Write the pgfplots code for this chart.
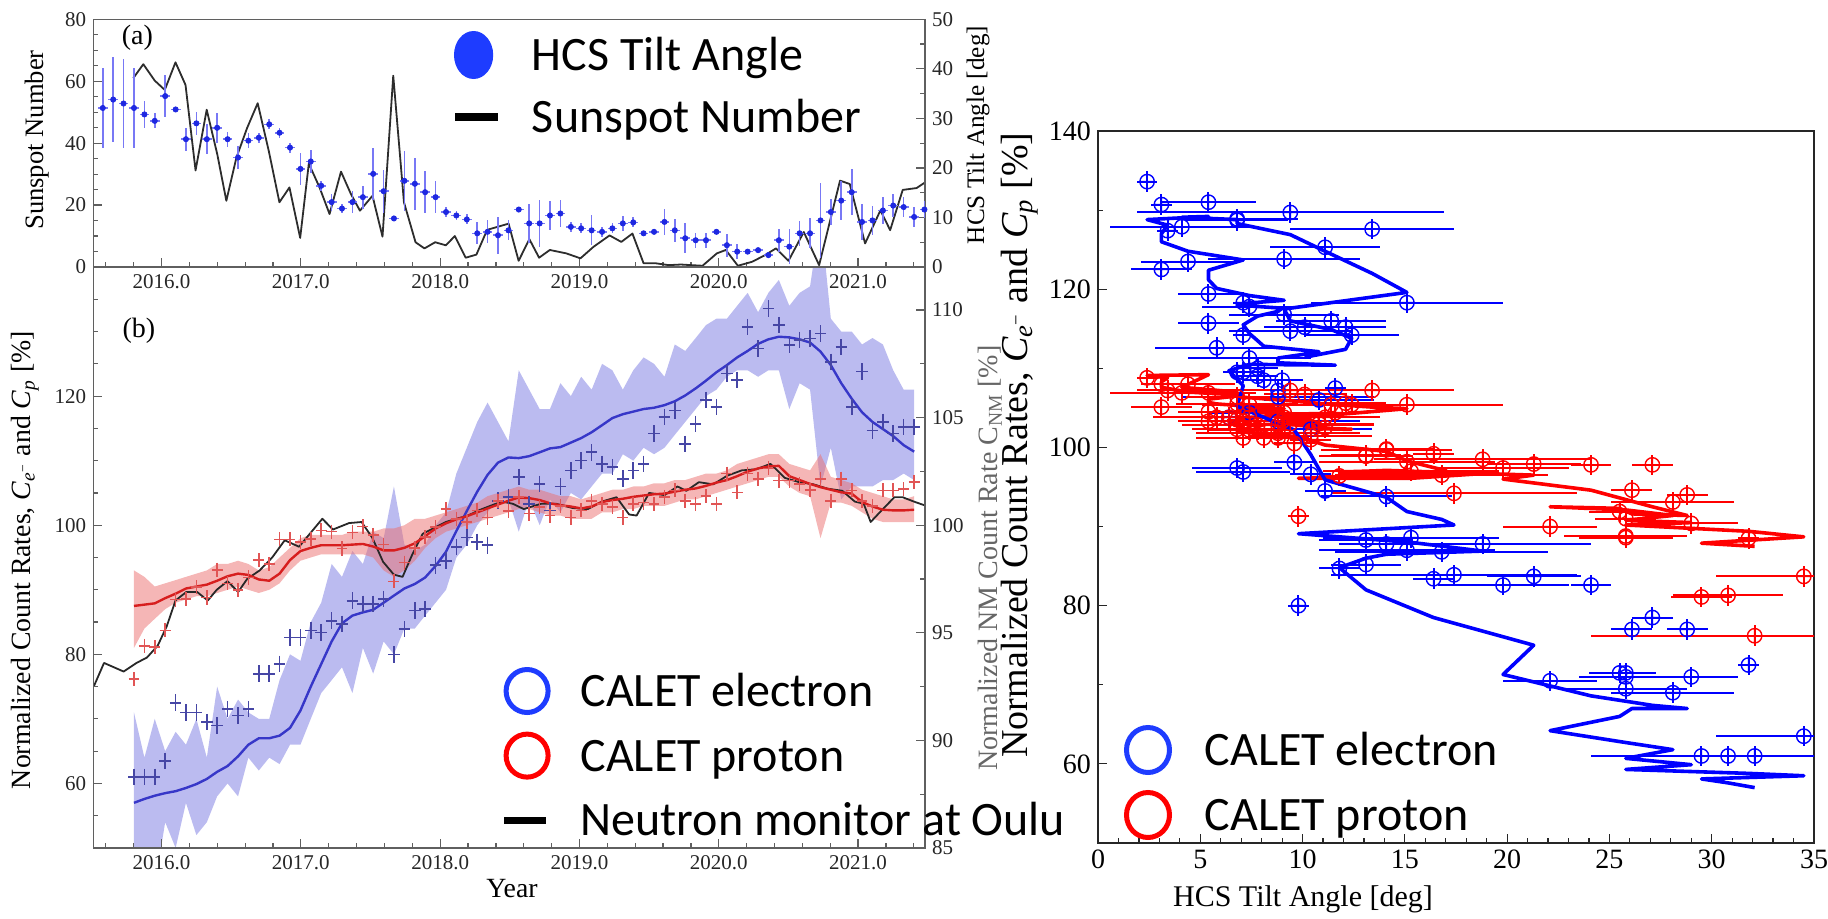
\documentclass[border=0pt]{standalone}
\usepackage{fontspec}
\setmainfont{Liberation Serif}
\newfontfamily\calibri{Carlito}
\usepackage{pgfplots}
\pgfplotsset{compat=1.18}
\usepackage{pgfplotstable}

\definecolor{frameg}{RGB}{95,95,95}
\definecolor{tiltdot}{RGB}{30,40,225}
\definecolor{tiltbar}{RGB}{120,120,245}
\definecolor{ssn}{RGB}{45,45,45}
\definecolor{eband}{RGB}{120,120,225}
\definecolor{eline}{RGB}{55,55,200}
\definecolor{ecross}{RGB}{70,70,165}
\definecolor{pband}{RGB}{235,110,110}
\definecolor{pline}{RGB}{215,30,30}
\definecolor{pcross}{RGB}{225,85,85}
\definecolor{nmline}{RGB}{40,40,40}
\definecolor{legblue}{RGB}{30,60,255}
\definecolor{legred}{RGB}{255,0,0}

% HCS tilt angle per Carrington rotation: epoch [yr], tilt and error [deg]
\pgfplotstableread{
t        tilt  dtilt
2015.578 32.1  8.0
2015.653 33.8  8.5
2015.727 33.0  9.0
2015.802 32.1  8.0
2015.877 30.8  2.7
2015.951 29.5  1.5
2016.026 34.5  4.3
2016.101 31.8  0.5
2016.175 25.8  2.3
2016.250 29.0  2.3
2016.325 25.8  3.0
2016.399 28.1  3.0
2016.474 25.8  1.5
2016.549 22.1  2.3
2016.623 25.5  1.5
2016.698 26.1  1.0
2016.773 28.8  1.0
2016.847 27.1  1.0
2016.922 24.1  1.0
2016.997 19.8  3.2
2017.071 21.3  2.3
2017.146 16.4  1.0
2017.221 13.1  1.7
2017.295 11.8  1.0
2017.370 13.1  2.3
2017.445 14.1  2.3
2017.519 18.8  5.3
2017.594 15.3  4.3
2017.668 9.8   0.5
2017.743 17.4  6.0
2017.818 16.8  5.2
2017.892 15.1  4.3
2017.967 14.1  3.2
2018.042 11.1  1.0
2018.116 10.4  1.0
2018.191 9.6   1.0
2018.266 6.8   2.2
2018.340 7.1   2.3
2018.415 6.4   3.7
2018.490 7.4   2.0
2018.564 11.6  0.5
2018.639 8.8   4.0
2018.714 8.8   4.7
2018.788 10.4  3.0
2018.863 10.8  2.7
2018.938 8.1   1.0
2019.012 7.8   1.0
2019.087 7.4   3.0
2019.162 7.1   1.0
2019.236 7.8   1.0
2019.311 8.8   1.5
2019.386 9.0   1.0
2019.460 6.8   0.5
2019.535 7.1   0.5
2019.610 9.1   2.7
2019.684 7.4   2.3
2019.759 5.8   3.0
2019.834 5.4   1.5
2019.908 5.4   1.5
2019.983 7.1   0.5
2020.058 4.4   2.3
2020.132 3.1   1.5
2020.207 3.1   0.5
2020.282 3.4   0.5
2020.356 2.4   0.5
2020.431 5.4   2.3
2020.506 4.1   3.5
2020.580 6.8   2.5
2020.655 6.8   3.0
2020.730 9.4   7.5
2020.804 11.1  2.7
2020.879 13.4  4.0
2020.954 15.1  4.7
2021.028 9.1   3.7
2021.103 9.4   3.0
2021.178 11.4  2.7
2021.252 12.4  2.3
2021.327 12.1  2.0
2021.402 10.1  2.0
2021.476 11.6  1.7
}\tilttab

% CALET rates per Carrington rotation, with the tilt of the same rotation:
% e, p = electron / proton count rates [%], eS, pS = smoothed rates,
% eLo..eHi and pLo..pHi = uncertainty bands of the smoothed rates
\pgfplotstableread{
t        tilt  dtilt e     p     eS    eLo  eHi  pS    pLo   pHi
2015.802 32.1  8.0   61.0  76.2  57.0  47   71   87.5  81    93
2015.877 30.8  2.7   61.0  81.3  57.6  50   64   87.7  84    92
2015.951 29.5  1.5   61.0  81.1  58.1  44   70   87.9  85.5  90.5
2016.026 34.5  4.3   63.5  83.7  58.5  54   65   88.7  87    91
2016.101 31.8  0.5   72.5  88.5  58.8  50   68   89.4  88    91.5
2016.175 25.8  2.3   71.0  88.6  59.3  57   66   90.2  88.5  92
2016.250 29.0  2.3   71.0  90.4  59.9  52   70   90.5  89    92.5
2016.325 25.8  3.0   69.5  88.8  60.7  54   64   90.8  89    93
2016.399 28.1  3.0   69.0  93.1  61.8  58   75   91.4  89.5  94
2016.474 25.8  1.5   71.5  91.0  62.7  60   70   92.1  90    94
2016.549 22.1  2.3   70.5  90.0  64.2  58   73   92.5  90.5  94.5
2016.623 25.5  1.5   71.5  91.9  66.0  64   71   92.3  90    94
2016.698 26.1  1.0   77.0  94.6  67.0  62   70   91.6  89.5  93
2016.773 28.8  1.0   77.0  94.0  67.0  64   70   91.4  90    93.5
2016.847 27.1  1.0   78.5  97.8  67.4  63   76   92.5  91    95
2016.922 24.1  1.0   82.6  97.8  68.6  66   80   94.6  93    96.5
2016.997 19.8  3.2   82.6  97.4  71.3  66   79   96.0  94.5  98
2017.071 21.3  2.3   83.7  97.9  75.0  70   85   96.5  95    98.5
2017.146 16.4  1.0   83.4  99.2  78.5  74   88   96.9  95.5  98.5
2017.221 13.1  1.7   85.2  99.0  82.0  76   94   96.9  95.5  98.5
2017.295 11.8  1.0   84.7  96.4  84.8  78   92   96.9  95.5  98.5
2017.370 13.1  2.3   88.3  98.9  86.0  74   96   97.0  95.5  99
2017.445 14.1  2.3   87.8  99.8  86.5  81   94   97.1  95.5  99
2017.519 18.8  5.3   87.8  98.5  86.9  77   99   96.7  95    99
2017.594 15.3  4.3   88.6  97.0  88.0  82   98   96.1  93    99.5
2017.668 9.8   0.5   80.0  91.3  89.1  80   106  96.1  92    99.5
2017.743 17.4  6.0   83.9  94.2  90.2  84   97   96.5  93    100
2017.818 16.8  5.2   86.8  96.5  90.9  84   96   97.2  94.5  101
2017.892 15.1  4.3   87.0  98.2  91.9  86   97   98.3  96.5  101
2017.967 14.1  3.2   93.8  99.7  93.7  88   100  99.5  98    101.5
2018.042 11.1  1.0   94.5  102.5 95.9  90   102  100.3 99    102
2018.116 10.4  1.0   96.6  101.0 99.1  95   108  100.9 99.5  102.5
2018.191 9.6   1.0   98.1  100.5 102.2 97   112  101.4 100   103
2018.266 6.8   2.2   97.4  102.3 105.2 100  116  102.0 100.5 103.5
2018.340 7.1   2.3   96.9  101.2 107.8 102  119  102.6 101   104.5
2018.415 6.4   3.7   103.8 103.8 109.7 104  116  103.2 101.5 105
2018.490 7.4   2.0   104.4 102.2 110.5 104  113  103.8 102   105.5
2018.564 11.6  0.5   107.5 104.4 110.4 99   124  104.3 102.5 106
2018.639 8.8   4.0   103.3 101.8 110.7 104  121  104.2 102.5 105.5
2018.714 8.8   4.7   106.4 102.8 111.3 100  118  103.9 102   105.5
2018.788 10.4  3.0   102.3 101.5 111.9 104  118  103.4 101.5 105
2018.863 10.8  2.7   106.0 103.0 112.1 102  122  103.1 101.5 104.5
2018.938 8.1   1.0   108.5 101.2 112.8 105  120  102.9 101   104.5
2019.012 7.8   1.0   110.0 102.3 113.5 104  123  102.6 101   104
2019.087 7.4   3.0   111.3 103.8 114.4 106  121  102.9 101   104.5
2019.162 7.1   1.0   109.5 103.3 115.5 108  125  103.6 102   105
2019.236 7.8   1.0   109.0 102.8 116.6 108  124  103.9 102   105.5
2019.311 8.8   1.5   107.2 101.2 117.2 111  121  104.1 102.5 105.5
2019.386 9.0   1.0   108.5 103.3 117.6 110  124  104.4 102.5 106
2019.460 6.8   0.5   109.5 103.5 118.0 112  126  104.6 103   106
2019.535 7.1   0.5   114.2 103.3 118.2 111  125  104.8 103   106.5
2019.610 9.1   2.7   116.8 104.4 118.6 112  123  104.9 103   106.5
2019.684 7.4   2.3   117.8 105.4 119.2 114  128  105.2 103.5 107
2019.759 5.8   3.0   112.6 103.8 120.1 116  127  105.5 104   107
2019.834 5.4   1.5   115.7 103.3 121.2 118  129  105.7 104   107.5
2019.908 5.4   1.5   119.4 104.5 122.4 120  131  106.1 104.5 108
2019.983 7.1   0.5   118.3 103.3 123.7 121  132  106.6 105   108
2020.058 4.4   2.3   123.5 108.0 124.8 123  132  107.0 105.5 108.5
2020.132 3.1   1.5   122.5 105.1 126.0 124  134  107.6 106   109.5
2020.207 3.1   0.5   130.7 108.0 127.0 124  136  108.3 106.5 110
2020.282 3.4   0.5   127.4 107.2 128.1 123  133  108.8 107   110.5
2020.356 2.4   0.5   133.6 108.8 128.8 124  136  109.1 107.5 111
2020.431 5.4   2.3   131.0 106.9 129.2 124  138  109.2 107.5 111
2020.506 4.1   3.5   127.9 106.9 129.1 118  134  107.6 106   109.5
2020.580 6.8   2.5   128.7 106.4 128.8 122  136  107.0 105   109
2020.655 6.8   3.0   128.9 105.5 128.3 121  137  106.4 104.5 108.5
2020.730 9.4   7.5   129.7 107.2 126.9 106  148  105.9 98    111
2020.804 11.1  2.7   125.3 103.8 124.8 112  132  105.5 103.5 107.5
2020.879 13.4  4.0   127.6 107.2 122.0 104  130  105.1 103.5 107
2020.954 15.1  4.7   118.3 105.4 119.6 106  130  104.9 103   106.5
2021.028 9.1   3.7   123.8 103.8 117.5 106  128  103.6 102   105.5
2021.103 9.4   3.0   114.7 103.0 116.0 106  129  102.9 101   105
2021.178 11.4  2.7   116.0 105.4 114.9 107  128  102.4 100.5 104.5
2021.252 12.4  2.3   114.2 105.4 113.8 107  124  102.3 100.5 104
2021.327 12.1  2.0   115.2 105.6 112.4 108  121  102.3 100.5 104
2021.402 10.1  2.0   115.2 106.7 111.4 107  121  102.4 100.5 104.5
}\calet

% monthly sunspot number
\pgfplotstableread{
t        ssn
2015.797 61.0
2015.869 65.5
2015.951 60.2
2016.023 57.2
2016.100 66.1
2016.172 58.8
2016.244 31.2
2016.324 50.8
2016.400 36.4
2016.465 21.4
2016.537 35.3
2016.614 44.9
2016.690 52.9
2016.770 37.4
2016.846 20.9
2016.918 25.7
2016.995 9.4
2017.057 33.4
2017.134 25.7
2017.206 17.1
2017.288 30.8
2017.360 23.5
2017.424 18.2
2017.514 23.0
2017.586 9.8
2017.663 61.8
2017.740 20.9
2017.823 8.0
2017.887 6.0
2017.964 8.0
2018.041 7.0
2018.105 10.0
2018.183 3.0
2018.260 4.0
2018.337 12.0
2018.414 13.0
2018.491 14.0
2018.563 2.0
2018.640 9.0
2018.710 3.0
2018.787 5.5
2018.905 4.4
2019.007 2.8
2019.100 6.5
2019.216 10.2
2019.300 8.1
2019.380 10.8
2019.460 1.2
2019.547 1.2
2019.640 0.6
2019.727 0.8
2019.804 0.6
2019.883 0.4
2019.986 4.4
2020.050 5.5
2020.137 0.4
2020.240 1.7
2020.330 3.8
2020.410 6.0
2020.500 2.0
2020.610 11.3
2020.720 0.6
2020.870 27.9
2020.940 26.8
2021.050 7.6
2021.160 18.3
2021.230 11.9
2021.320 24.9
2021.420 25.5
2021.500 27.9
}\sunspot

% Oulu neutron monitor, normalised count rate [%]
\pgfplotstableread{
t        nm
2015.513 92.5
2015.587 93.6
2015.728 93.2
2015.820 93.6
2015.895 93.85
2015.972 94.4
2016.037 95.3
2016.100 96.5
2016.178 96.9
2016.255 96.9
2016.332 96.5
2016.396 97.0
2016.473 97.4
2016.550 96.9
2016.614 97.5
2016.704 97.9
2016.794 98.5
2016.884 99.3
2016.987 99.0
2017.064 99.6
2017.154 100.3
2017.230 99.8
2017.346 100.1
2017.436 100.15
2017.514 99.4
2017.590 98.3
2017.668 97.7
2017.730 97.6
2017.797 98.6
2017.874 99.6
2017.964 99.9
2018.040 100.15
2018.118 100.3
2018.200 100.45
2018.280 100.7
2018.360 100.9
2018.440 101.1
2018.520 101.0
2018.600 100.75
2018.726 101.0
2018.830 101.0
2018.950 100.8
2019.060 100.75
2019.160 101.1
2019.266 101.3
2019.356 100.5
2019.410 100.45
2019.500 101.5
2019.610 101.4
2019.703 101.8
2019.767 101.6
2019.857 102.0
2019.960 101.9
2020.060 102.3
2020.165 102.55
2020.268 102.6
2020.370 102.85
2020.420 102.55
2020.474 102.2
2020.577 102.0
2020.680 101.9
2020.780 101.7
2020.886 101.6
2020.976 101.1
2021.040 101.0
2021.090 100.15
2021.170 100.7
2021.260 101.3
2021.320 101.3
2021.400 101.1
2021.488 100.9
}\oulu

\pgfplotsset{
  leftpanel/.style={
    scale only axis, width=415.85pt,
    xmin=2015.51, xmax=2021.48,
    axis line style={draw=frameg, line width=0.7pt},
    tick style={draw=frameg, line width=0.6pt},
    major tick length=4.5pt, minor tick length=2.5pt,
    tick label style={font=\fontsize{10.5}{12}\selectfont, text=black!85},
    /pgf/number format/assume math mode=true,
    xtick={2016,2017,...,2021},
    minor xtick={2015.6,2015.8,...,2021.41},
    xticklabel={\pgfmathprintnumber[fixed,fixed zerofill,precision=1,1000 sep={}]{\tick}},
  },
  bandaxis/.style={
    scale only axis, width=415.85pt, height=290.5pt,
    at={(46.65pt,35pt)}, anchor=south west,
    xmin=2015.51, xmax=2021.48, ymin=50, ymax=140, hide axis,
  },
  bigleg/.style={
    legend cell align=left,
    legend style={draw=none, fill=none, inner sep=0pt, outer sep=0pt,
      anchor=north west, row sep=#1,
      font=\calibri\fontsize{24}{28}\selectfont,
      nodes={inner sep=0pt, text height=17pt, text depth=1.6pt}},
  },
}

\begin{document}
\begin{tikzpicture}
\path[use as bounding box] (0,0) rectangle (914pt,459pt);

% ---------- (a) sunspot number ----------
\begin{axis}[leftpanel, at={(46.65pt,325.5pt)}, anchor=south west, height=123.85pt,
  ymin=0, ymax=80, ytick={0,20,...,80}, minor ytick={0,5,...,80},
  xtick pos=bottom, ytick pos=left]
\addplot[ssn, line width=0.9pt, line join=round] table[x=t,y=ssn]{\sunspot};
\node[font=\fontsize{14}{15}\selectfont] at (rel axis cs:0.0531,0.9245) {(a)};
\end{axis}

% ---------- (a) HCS tilt angle, right axis ----------
\begin{axis}[leftpanel, at={(46.65pt,325.5pt)}, anchor=south west, height=123.85pt,
  ymin=0, ymax=50, ytick={0,10,...,50}, minor ytick={0,5,...,50},
  axis y line*=right, axis x line=none,
  bigleg=6pt, legend style={at={(0.43369,0.9568)}}]
\addplot[forget plot, only marks, mark=*, mark size=1.3pt, tiltdot,
  error bars/.cd, y dir=both, y explicit, x dir=both, x fixed=0.035,
  error mark=none, error bar style={tiltbar, line width=0.8pt}]
  table[x=t, y=tilt, y error=dtilt]{\tilttab};
\addlegendimage{legend image code/.code={
  \path[draw=none, fill=none] (0pt,-12.5pt) rectangle (39pt,12.5pt);
  \fill[legblue, draw=none] (9.8pt,0pt) ellipse [x radius=9.8pt, y radius=12pt];}}
\addlegendentry{HCS Tilt Angle}
\addlegendimage{legend image code/.code={
  \path[draw=none, fill=none] (0pt,-12.5pt) rectangle (39pt,12.5pt);
  \fill[black, draw=none] (0.5pt,-2pt) rectangle (22pt,2pt);}}
\addlegendentry{Sunspot Number}
\end{axis}

% ---------- (b) uncertainty bands of the smoothed rates ----------
\begin{axis}[bandaxis]
\addplot[draw=none, stack plots=y, forget plot] table[x=t,y=eLo]{\calet};
\addplot[fill=eband, fill opacity=0.5, draw=none, stack plots=y, forget plot]
  table[x=t, y expr=\thisrow{eHi}-\thisrow{eLo}]{\calet} \closedcycle;
\end{axis}
\begin{axis}[bandaxis]
\addplot[draw=none, stack plots=y, forget plot] table[x=t,y=pLo]{\calet};
\addplot[fill=pband, fill opacity=0.5, draw=none, stack plots=y, forget plot]
  table[x=t, y expr=\thisrow{pHi}-\thisrow{pLo}]{\calet} \closedcycle;
\end{axis}

% ---------- (b) neutron monitor, right axis ----------
\begin{axis}[leftpanel, at={(46.65pt,35pt)}, anchor=south west, height=290.5pt,
  ymin=85, ymax=112, ytick={85,90,...,110}, minor ytick={85,87.5,...,110},
  axis y line*=right, axis x line=none]
\addplot[nmline, line width=0.9pt, line join=round] table[x=t,y=nm]{\oulu};
\end{axis}

% ---------- (b) CALET count rates ----------
\begin{axis}[leftpanel, at={(46.65pt,35pt)}, anchor=south west, height=290.5pt,
  ymin=50, ymax=140, ytick={60,80,...,120}, minor ytick={50,55,...,140},
  xtick pos=bottom, ytick pos=left,
  bigleg=7.3pt, legend style={at={(0.49333,0.31325)}}]
\addplot[forget plot, eline, line width=1.2pt, line join=round] table[x=t,y=eS]{\calet};
\addplot[forget plot, pline, line width=1.2pt, line join=round] table[x=t,y=pS]{\calet};
\addplot[forget plot, only marks, mark=+, mark size=3.6pt, ecross,
  mark options={line width=0.8pt, xscale=0.8, yscale=1.15}]
  table[x=t,y=e]{\calet};
\addplot[forget plot, only marks, mark=+, mark size=3.2pt, pcross,
  mark options={line width=0.8pt, xscale=0.85, yscale=1.1}]
  table[x=t,y=p]{\calet};
\node[font=\fontsize{14}{15}\selectfont] at (rel axis cs:0.0549,0.8898) {(b)};
\addlegendimage{legend image code/.code={
  \path[draw=none, fill=none] (0pt,-12.5pt) rectangle (38.5pt,12.5pt);
  \draw[legblue, fill=none, line width=2.5pt] (11.75pt,0pt) ellipse [x radius=10.5pt, y radius=10.75pt];}}
\addlegendentry{CALET electron}
\addlegendimage{legend image code/.code={
  \path[draw=none, fill=none] (0pt,-12.5pt) rectangle (38.5pt,12.5pt);
  \draw[legred, fill=none, line width=2.5pt] (11.75pt,0pt) ellipse [x radius=10.5pt, y radius=10.75pt];}}
\addlegendentry{CALET proton}
\addlegendimage{legend image code/.code={
  \path[draw=none, fill=none] (0pt,-12.5pt) rectangle (38.5pt,12.5pt);
  \fill[black, draw=none] (0pt,-1.8pt) rectangle (21pt,1.8pt);}}
\addlegendentry{Neutron monitor at Oulu}
\end{axis}

% ---------- count rates versus tilt angle ----------
\begin{axis}[scale only axis, at={(549pt,37.5pt)}, anchor=south west,
  width=358pt, height=356pt,
  xmin=0, xmax=35, ymin=50, ymax=140,
  xtick={0,5,...,35}, minor x tick num=4,
  ytick={60,80,...,140}, minor ytick={70,90,110,130},
  xtick pos=bottom, ytick pos=left,
  axis line style={draw=black!85, line width=0.8pt},
  tick style={draw=black!85, line width=0.6pt},
  major tick length=4.5pt, minor tick length=2.5pt,
  tick label style={font=\fontsize{14}{15}\selectfont},
  /pgf/number format/assume math mode=true,
  bigleg=7.5pt, legend style={at={(0.03631,0.16573)}}]
\addplot[forget plot, only marks, mark=oplus, mark size=3.6pt, blue,
  mark options={line width=0.7pt},
  error bars/.cd, x dir=both, x explicit, y dir=both, y fixed=1.3, error mark=none,
  error bar style={blue, line width=1pt}]
  table[x=tilt, y=e, x error=dtilt]{\calet};
\addplot[forget plot, only marks, mark=oplus, mark size=3.6pt, red,
  mark options={line width=0.7pt},
  error bars/.cd, x dir=both, x explicit, y dir=both, y fixed=1.3, error mark=none,
  error bar style={red, line width=1pt}]
  table[x=tilt, y=p, x error=dtilt]{\calet};
\addplot[forget plot, red, line width=1.8pt, line join=round] table[x=tilt,y=pS]{\calet};
\addplot[forget plot, blue, line width=1.8pt, line join=round] table[x=tilt,y=eS]{\calet};
\addlegendimage{legend image code/.code={
  \path[draw=none, fill=none] (0pt,-12.5pt) rectangle (40.4pt,12.5pt);
  \draw[legblue, fill=none, line width=2.5pt] (12pt,0pt) ellipse [x radius=10.75pt, y radius=11.25pt];}}
\addlegendentry{CALET electron}
\addlegendimage{legend image code/.code={
  \path[draw=none, fill=none] (0pt,-12.5pt) rectangle (40.4pt,12.5pt);
  \draw[legred, fill=none, line width=2.5pt] (12pt,0pt) ellipse [x radius=10.75pt, y radius=11.25pt];}}
\addlegendentry{CALET proton}
\end{axis}

% ---------- axis titles ----------
\node[rotate=90, font=\fontsize{13.3}{15}\selectfont] at (18.75pt,389pt) {Sunspot Number};
\node[rotate=90, font=\fontsize{12.6}{14}\selectfont] at (489pt,391.5pt) {HCS Tilt Angle [deg]};
\node[rotate=90, font=\fontsize{13.9}{15}\selectfont] at (12.5pt,179pt)
  {Normalized Count Rates, \textit{C}\textsubscript{\textit{e}\textsuperscript{−}} and \textit{C}\textsubscript{\textit{p}} [\%]};
\node[rotate=90, font=\fontsize{14}{15}\selectfont, text=black!60] at (495pt,180pt)
  {Normalized NM Count Rate C\textsubscript{NM} [\%]};
\node[rotate=90, font=\fontsize{19}{21}\selectfont] at (509.75pt,236.5pt)
  {Normalized Count Rates, \textit{C}\textsubscript{\textit{e}\textsuperscript{−}} and \textit{C}\textsubscript{\textit{p}} [\%]};
\node[font=\fontsize{13.9}{15}\selectfont] at (256pt,14.5pt) {Year};
\node[font=\fontsize{15}{17}\selectfont] at (651.5pt,9.5pt) {HCS Tilt Angle [deg]};
\end{tikzpicture}
\end{document}
